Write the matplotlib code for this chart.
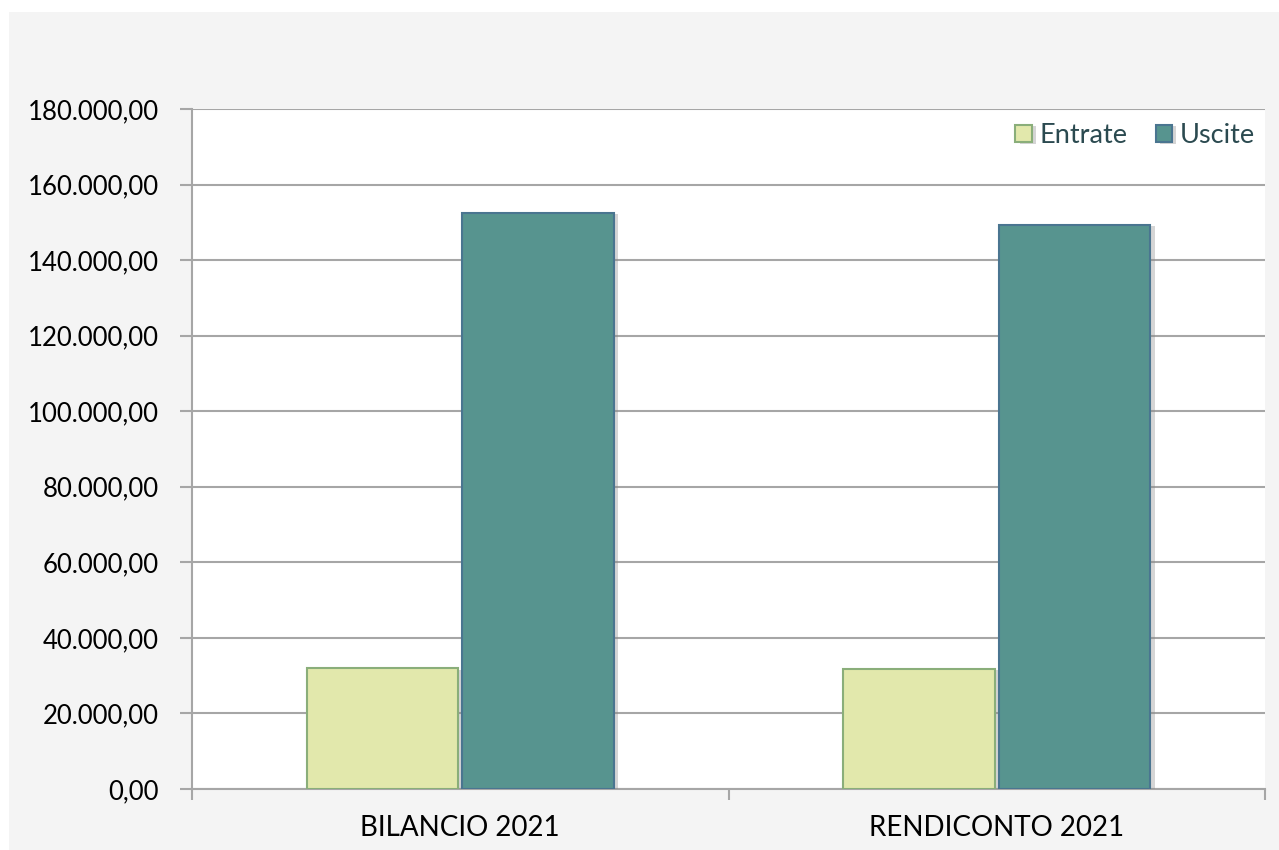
import matplotlib
matplotlib.use("Agg")
from matplotlib import pyplot as plt
from matplotlib.patches import Rectangle
from matplotlib.ticker import FuncFormatter, MultipleLocator
import matplotlib.patheffects as pe
import numpy as np

# Values
categories = ["BILANCIO 2021", "RENDICONTO 2021"]
entrate = [32000, 31800]
uscite = [152500, 149300]
series_names = ["Entrate", "Uscite"]

plt.rcParams['font.family'] = ['Lato', 'DejaVu Sans']

fig = plt.figure(figsize=(12.79, 8.5), dpi=100)
fig.patch.set_facecolor('white')
# light grey panel behind the chart
fig.add_artist(Rectangle((9 / 1279, 0), 1, (850 - 12) / 850,
                         transform=fig.transFigure, facecolor='#f4f4f4',
                         edgecolor='none', zorder=-10))

ax = fig.add_axes([192 / 1279, 1 - 789 / 850, (1265 - 192) / 1279, (789 - 109) / 850])
ax.set_facecolor('white')

x = np.arange(len(categories)) + 0.5
w = 0.283
shadow = [pe.SimplePatchShadow(offset=(3, -1), shadow_rgbFace='#888888', alpha=0.35), pe.Normal()]
ax.bar(x - 0.145, entrate, width=w, color='#e2e8ac', edgecolor='#8aae7a',
       linewidth=1.5, label=series_names[0], zorder=3, path_effects=shadow)
ax.bar(x + 0.145, uscite, width=w, color='#57948f', edgecolor='#4a7590',
       linewidth=1.5, label=series_names[1], zorder=3, path_effects=shadow)

ax.set_xlim(0, 2)
ax.set_ylim(0, 180000)
ax.yaxis.set_major_locator(MultipleLocator(20000))
ax.yaxis.set_major_formatter(FuncFormatter(
    lambda v, p: f"{v:,.2f}".replace(",", "X").replace(".", ",").replace("X", ".")))
ax.grid(axis='y', color='#a6a6a6', linewidth=1.5, zorder=0)
ax.set_axisbelow(True)

ax.set_xticks(x)
ax.set_xticklabels(categories)
ax.set_xticks([0, 1, 2], minor=True)
ax.tick_params(axis='x', which='major', length=0, pad=19, labelsize=20)
ax.tick_params(axis='x', which='minor', length=8, width=1.5, color='#a6a6a6', direction='out')
ax.tick_params(axis='y', length=9, width=1.5, color='#a6a6a6', pad=15, labelsize=18.5)

for s in ['top', 'right']:
    ax.spines[s].set_visible(False)
for s in ['left', 'bottom']:
    ax.spines[s].set_color('#a6a6a6')
    ax.spines[s].set_linewidth(1.5)

leg = ax.legend(loc='upper right', bbox_to_anchor=(1.008, 1.007), ncol=2, frameon=False,
                fontsize=19.5, handlelength=0.6, handleheight=0.6, handletextpad=0.28,
                columnspacing=1.05, borderaxespad=0.3)
for t in leg.get_texts():
    t.set_color('#2b4a50')

fig.savefig('out.png', dpi=100, facecolor=fig.get_facecolor())
